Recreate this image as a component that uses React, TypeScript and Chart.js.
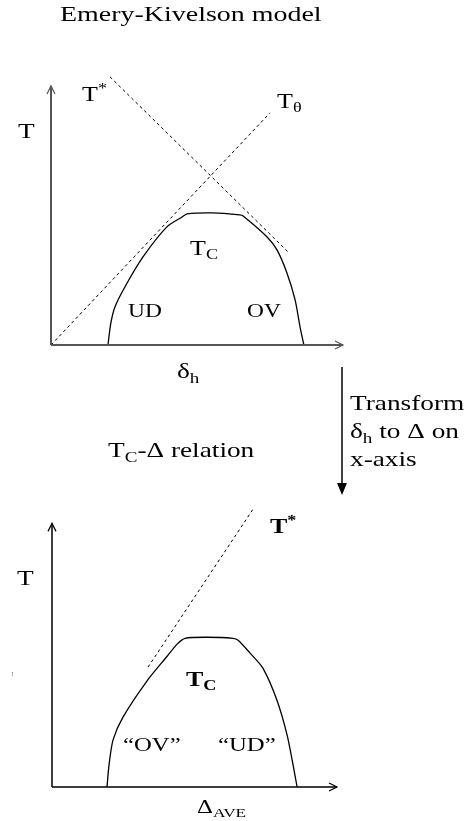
import React, { useEffect, useRef } from "react";
import { Chart, registerables } from "chart.js";
Chart.register(...registerables);

const W = 467;
const H = 821;

// ---------- Top chart: Emery-Kivelson model (x = δh, y = T) ----------
const topTcX = [1.95, 2.05, 2.19, 2.53, 3.15, 3.97, 4.49, 4.66, 5.55, 6.47, 6.58, 7.4, 7.74, 8.08, 8.36, 8.53, 8.66];
const topTcY = [0, 0.85, 1.47, 2.24, 3.4, 4.56, 4.94, 5.06, 5.1, 5.02, 4.98, 4.17, 3.67, 2.78, 1.74, 0.69, 0];
const topTStarX = [2.02, 8.12];
const topTStarY = [10.35, 3.59];
const topTThetaX = [0, 7.5];
const topTThetaY = [0, 8.96];

// ---------- Bottom chart: Tc-Δ relation (x = Δ_AVE, y = T) ----------
const botTcX = [1.93, 2.0, 2.14, 2.49, 3.33, 4.04, 4.39, 4.67, 5.44, 6.35, 6.53, 6.95, 7.4, 7.89, 8.25, 8.46, 8.6];
const botTcY = [0, 0.83, 1.78, 2.65, 4.02, 4.96, 5.42, 5.64, 5.68, 5.64, 5.57, 5.08, 4.51, 3.3, 1.97, 0.83, 0];
const botTStarX = [3.37, 7.05];
const botTStarY = [4.55, 10.53];

const AXIS_MAX = 10;

type Part = [string, "n" | "sub" | "sup"];
type Label = { x: number; y: number; parts: Part[]; size: number; bold?: boolean; color?: string };

const FONT = '"Liberation Serif", "Times New Roman", serif';
const SX = 1.3;

function drawRich(ctx: CanvasRenderingContext2D, l: Label) {
  ctx.save();
  ctx.translate(l.x, l.y);
  ctx.scale(SX, 1);
  ctx.fillStyle = l.color || "#000";
  ctx.textBaseline = "alphabetic";
  ctx.textAlign = "left";
  let cx = 0;
  for (const [t, m] of l.parts) {
    const s = m === "n" ? l.size : l.size * 0.7;
    ctx.font = `${l.bold ? "bold " : ""}${s}px ${FONT}`;
    const dy = m === "sub" ? l.size * 0.22 : m === "sup" ? -l.size * 0.38 : 0;
    ctx.fillText(t, cx, dy);
    cx += ctx.measureText(t).width;
  }
  ctx.restore();
}

function pts(xs: number[], ys: number[]) {
  return xs.map((x, i) => ({ x, y: ys[i] }));
}

function drawAxes(chart: any, color: string, width: number) {
  const { ctx } = chart;
  const xs = chart.scales.x;
  const ys = chart.scales.y;
  const x0 = xs.getPixelForValue(0);
  const y0 = ys.getPixelForValue(0);
  const x1 = xs.getPixelForValue(AXIS_MAX);
  const y1 = ys.getPixelForValue(AXIS_MAX);
  ctx.save();
  ctx.strokeStyle = color;
  ctx.lineWidth = width;
  ctx.lineCap = "butt";
  ctx.beginPath();
  ctx.moveTo(x0, y0);
  ctx.lineTo(x1, y0);
  ctx.moveTo(x0, y0);
  ctx.lineTo(x0, y1);
  ctx.stroke();
  ctx.lineWidth = 1.2;
  ctx.beginPath();
  ctx.moveTo(x1 - 8, y0 - 4);
  ctx.lineTo(x1, y0);
  ctx.lineTo(x1 - 8, y0 + 4);
  ctx.moveTo(x0 - 4, y1 + 8);
  ctx.lineTo(x0, y1);
  ctx.lineTo(x0 + 4, y1 + 8);
  ctx.stroke();
  ctx.restore();
}

const topLabels: Label[] = [
  { x: 60, y: 21, parts: [["Emery-Kivelson model", "n"]], size: 21.5 },
  { x: 18, y: 138, parts: [["T", "n"]], size: 21 },
  { x: 82, y: 101, parts: [["T", "n"], ["*", "sup"]], size: 20 },
  { x: 277, y: 108, parts: [["T", "n"], ["θ", "sub"]], size: 20 },
  { x: 190, y: 255, parts: [["T", "n"], ["C", "sub"]], size: 20 },
  { x: 128, y: 317, parts: [["UD", "n"]], size: 18 },
  { x: 247, y: 317, parts: [["OV", "n"]], size: 18 },
  { x: 177, y: 378, parts: [["δ", "n"], ["h", "sub"]], size: 21 },
  { x: 350, y: 410, parts: [["Transform", "n"]], size: 21 },
  { x: 350, y: 438, parts: [["δ", "n"], ["h", "sub"], [" to Δ on", "n"]], size: 21 },
  { x: 350, y: 466, parts: [["x-axis", "n"]], size: 21 },
];

const botLabels: Label[] = [
  { x: 108, y: 457, parts: [["T", "n"], ["C", "sub"], ["-Δ relation", "n"]], size: 21 },
  { x: 17, y: 585, parts: [["T", "n"]], size: 21 },
  { x: 270, y: 533, parts: [["T", "n"], ["*", "sup"]], size: 20, bold: true },
  { x: 186, y: 686, parts: [["T", "n"], ["C", "sub"]], size: 20, bold: true },
  { x: 123, y: 751, parts: [["“OV”", "n"]], size: 19 },
  { x: 218, y: 751, parts: [["“UD”", "n"]], size: 19 },
  { x: 197, y: 813, parts: [["Δ", "n"], ["AVE", "sub"]], size: 19 },
  { x: 11, y: 676, parts: [["!", "n"]], size: 7, color: "#777" },
];

function makeChart(
  canvas: HTMLCanvasElement,
  datasets: any[],
  padding: any,
  axisColor: string,
  axisWidth: number,
  labels: Label[],
  extra?: (ctx: CanvasRenderingContext2D) => void
) {
  return new Chart(canvas, {
    type: "scatter",
    data: { datasets },
    options: {
      responsive: false,
      animation: false,
      devicePixelRatio: 1,
      layout: { padding },
      plugins: { legend: { display: false }, tooltip: { enabled: false }, title: { display: false } },
      scales: {
        x: { type: "linear", min: 0, max: 10, display: false },
        y: { type: "linear", min: 0, max: 11, display: false },
      },
      elements: { point: { radius: 0, hoverRadius: 0 } },
    },
    plugins: [
      {
        id: "decor",
        afterDatasetsDraw(chart: any) {
          drawAxes(chart, axisColor, axisWidth);
          const ctx = chart.ctx as CanvasRenderingContext2D;
          labels.forEach((l) => drawRich(ctx, l));
          if (extra) extra(ctx);
        },
      },
    ],
  } as any);
}

function lineDs(data: any[], dashed: boolean, width: number) {
  return {
    data,
    showLine: true,
    borderColor: "#000",
    borderWidth: width,
    borderDash: dashed ? [3, 3] : [],
    tension: dashed ? 0 : 0.25,
    pointRadius: 0,
    clip: false,
    fill: false,
  };
}

export default function App() {
  const topRef = useRef<HTMLCanvasElement>(null);
  const botRef = useRef<HTMLCanvasElement>(null);

  useEffect(() => {
    const top = makeChart(
      topRef.current!,
      [
        lineDs(pts(topTcX, topTcY), false, 1.3),
        lineDs(pts(topTStarX, topTStarY), true, 1),
        lineDs(pts(topTThetaX, topTThetaY), true, 1),
      ],
      { left: 51, right: W - 343, top: 60, bottom: H - 345 },
      "#555",
      2,
      topLabels,
      (ctx) => {
        // transform arrow
        ctx.save();
        ctx.strokeStyle = "#000";
        ctx.fillStyle = "#000";
        ctx.lineWidth = 1.5;
        ctx.beginPath();
        ctx.moveTo(342, 367);
        ctx.lineTo(342, 484);
        ctx.stroke();
        ctx.beginPath();
        ctx.moveTo(337, 483);
        ctx.lineTo(347, 483);
        ctx.lineTo(342, 495);
        ctx.closePath();
        ctx.fill();
        ctx.restore();
      }
    );
    const bot = makeChart(
      botRef.current!,
      [lineDs(pts(botTcX, botTcY), false, 1.3), lineDs(pts(botTStarX, botTStarY), true, 1)],
      { left: 52, right: W - 337, top: 497, bottom: H - 787 },
      "#000",
      1.5,
      botLabels
    );
    return () => {
      top.destroy();
      bot.destroy();
    };
  }, []);

  const cs: React.CSSProperties = { position: "absolute", left: 0, top: 0, width: W, height: H };
  return (
    <div style={{ position: "absolute", left: 0, top: 0, width: W, height: H, background: "#fff" }}>
      <canvas ref={topRef} width={W} height={H} style={cs} />
      <canvas ref={botRef} width={W} height={H} style={cs} />
    </div>
  );
}
